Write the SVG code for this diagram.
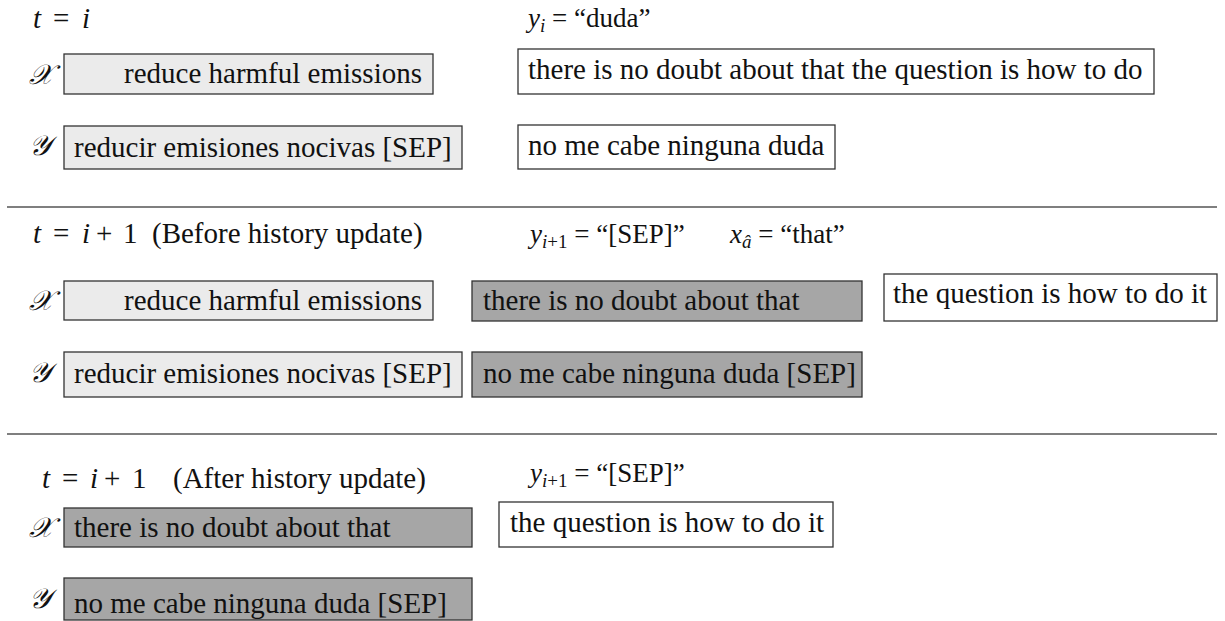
<svg xmlns="http://www.w3.org/2000/svg" width="1225" height="621" viewBox="0 0 1225 621">
<style>
text{font-family:"Liberation Serif","Times New Roman",serif;fill:#111}
.bt{font-size:29px}
.m{font-size:29px}
.lb{font-size:27px}
.it{font-style:italic}
.sub{font-size:19px}
.cal{font-size:28px;font-family:"DejaVu Serif","DejaVu Sans","Noto Sans",serif;font-style:italic}
.light{fill:#ebebeb;stroke:#333;stroke-width:1.3}
.dark{fill:#a6a6a6;stroke:#333;stroke-width:1.3}
.white{fill:#fff;stroke:#333;stroke-width:1.3}
.sep{stroke:#555;stroke-width:1.5}
</style>
<g id="separators">
<line class="sep" x1="7" y1="207" x2="1217" y2="207"/>
<line class="sep" x1="7" y1="434" x2="1217" y2="434"/>
</g>
<g id="connectors"/>
<!-- Section 1 -->
<g id="s1-header">
<text class="m it" x="33" y="28">t</text>
<text class="m" x="53" y="28">=</text>
<text class="m it" x="82" y="28">i</text>
<text class="lb" x="528" y="27"><tspan class="it">y</tspan><tspan class="sub it" dy="5">i</tspan><tspan dy="-5"> = “duda”</tspan></text>
</g>
<g id="s1-labels">
<text class="cal" x="29" y="84">𝒳</text>
<text class="cal" x="29" y="155">𝒴</text>
</g>
<g id="s1-x-hist"><rect class="light" x="64" y="54" width="369" height="40"/><text class="bt" x="124" y="83">reduce harmful emissions</text></g>
<g id="s1-y-hist"><rect class="light" x="64" y="126" width="398" height="43"/><text class="bt" x="74" y="157">reducir emisiones nocivas [SEP]</text></g>
<g id="s1-x-cur"><rect class="white" x="518" y="49" width="636" height="45"/><text class="bt" x="528" y="79">there is no doubt about that the question is how to do</text></g>
<g id="s1-y-cur"><rect class="white" x="518" y="125" width="317" height="44"/><text class="bt" x="528" y="155">no me cabe ninguna duda</text></g>
<!-- Section 2 -->
<g id="s2-header">
<text class="m it" x="33" y="243">t</text>
<text class="m" x="53" y="243">=</text>
<text class="m it" x="82" y="243">i</text>
<text class="m" x="96" y="243">+</text>
<text class="m" x="123" y="243">1</text>
<text class="m" x="152" y="243">(Before history update)</text>
<text class="lb" x="530" y="243"><tspan class="it">y</tspan><tspan class="sub" dy="5"><tspan class="it">i</tspan>+1</tspan><tspan dy="-5"> = “[SEP]”</tspan></text>
<text class="lb" x="730" y="243"><tspan class="it">x</tspan><tspan class="sub it" dy="5">â</tspan><tspan dy="-5"> = “that”</tspan></text>
</g>
<g id="s2-labels">
<text class="cal" x="29" y="310">𝒳</text>
<text class="cal" x="29" y="382">𝒴</text>
</g>
<g id="s2-x-hist"><rect class="light" x="64" y="281" width="369" height="39"/><text class="bt" x="124" y="310">reduce harmful emissions</text></g>
<g id="s2-y-hist"><rect class="light" x="64" y="352" width="398" height="45"/><text class="bt" x="74" y="383">reducir emisiones nocivas [SEP]</text></g>
<g id="s2-x-ctx"><rect class="dark" x="472" y="281" width="390" height="40"/><text class="bt" x="483" y="310">there is no doubt about that</text></g>
<g id="s2-x-rest"><rect class="white" x="884" y="274" width="333" height="47"/><text class="bt" x="893" y="303">the question is how to do it</text></g>
<g id="s2-y-ctx"><rect class="dark" x="472" y="352" width="390" height="45"/><text class="bt" x="483" y="383">no me cabe ninguna duda [SEP]</text></g>
<!-- Section 3 -->
<g id="s3-header">
<text class="m it" x="42" y="488">t</text>
<text class="m" x="62" y="488">=</text>
<text class="m it" x="90" y="488">i</text>
<text class="m" x="104" y="488">+</text>
<text class="m" x="132" y="488">1</text>
<text class="m" x="173" y="488">(After history update)</text>
<text class="lb" x="530" y="482"><tspan class="it">y</tspan><tspan class="sub" dy="5"><tspan class="it">i</tspan>+1</tspan><tspan dy="-5"> = “[SEP]”</tspan></text>
</g>
<g id="s3-labels">
<text class="cal" x="29" y="537">𝒳</text>
<text class="cal" x="29" y="608">𝒴</text>
</g>
<g id="s3-x-hist"><rect class="dark" x="64" y="508" width="408" height="39"/><text class="bt" x="74" y="537">there is no doubt about that</text></g>
<g id="s3-x-cur"><rect class="white" x="499" y="502" width="334" height="45"/><text class="bt" x="510" y="532">the question is how to do it</text></g>
<g id="s3-y-hist"><rect class="dark" x="64" y="578" width="408" height="42"/><text class="bt" x="74" y="613">no me cabe ninguna duda [SEP]</text></g>
</svg>
